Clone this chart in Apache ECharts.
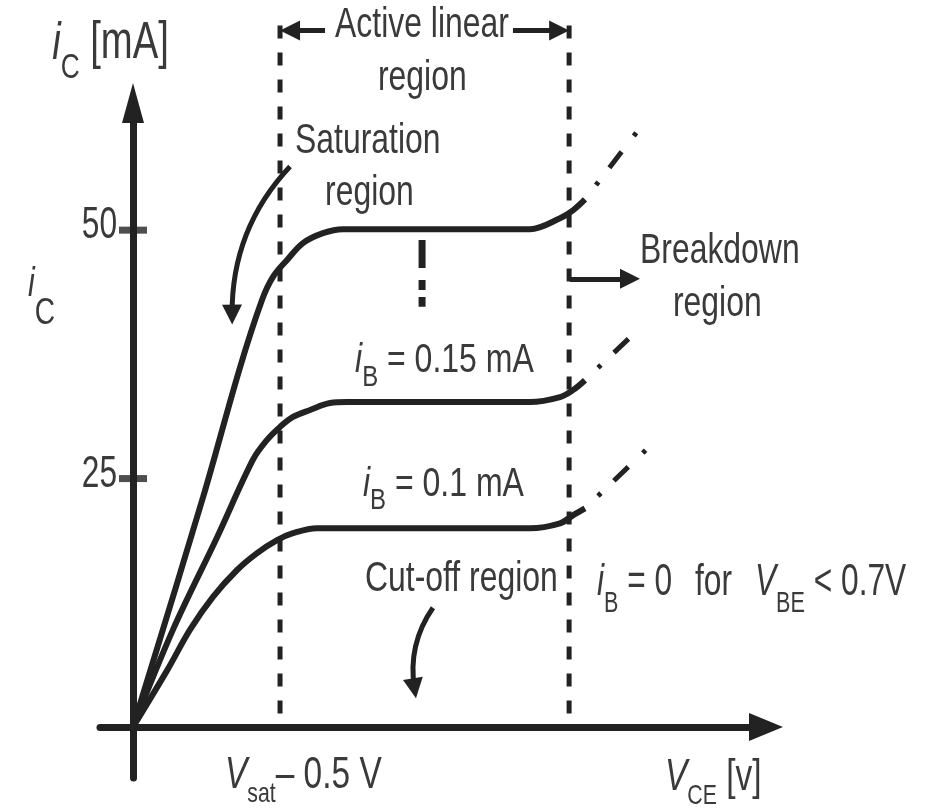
<!DOCTYPE html>
<html>
<head>
<meta charset="utf-8">
<script src="https://cdn.jsdelivr.net/npm/echarts@6/dist/echarts.min.js"></script>
<style>
  html, body { margin: 0; padding: 0; background: #fff; }
  #chart { width: 927px; height: 808px; }
</style>
</head>
<body>
<div id="chart"></div>
<script>
// output characteristics, V_CE [V] against i_C [mA]
const vceHigh = [0, 0.238, 0.364, 0.439, 0.476, 0.524, 0.578, 0.646, 0.714, 1.250, 1.350, 1.452, 1.496, 1.537];
const icHigh  = [0, 23.1, 36.2, 43.0, 45.3, 47.0, 48.7, 49.7, 50.1, 50.1, 50.1, 51.2, 52.0, 53.1];
const vceMid  = [0, 0.136, 0.286, 0.408, 0.456, 0.500, 0.544, 0.602, 0.670, 0.728, 1.250, 1.350, 1.452, 1.496, 1.537];
const icMid   = [0, 9.8, 19.1, 26.9, 28.9, 30.2, 31.2, 31.9, 32.6, 32.7, 32.7, 32.7, 33.2, 33.9, 34.9];
const vceLow  = [0, 0.116, 0.194, 0.272, 0.354, 0.422, 0.490, 0.544, 0.626, 0.704, 1.250, 1.350, 1.452, 1.496, 1.537];
const icLow   = [0, 5.7, 9.8, 13.1, 15.8, 17.5, 18.8, 19.5, 20.0, 20.0, 20.0, 20.0, 20.5, 21.3, 22.0];

// breakdown continuation of each curve (drawn dashed)
const vceBreak = [[1.537, 1.727], [1.537, 1.697], [1.537, 1.745]];
const icBreak  = [[53.1, 60.4], [34.9, 39.4], [22.0, 27.9]];

// V_sat and onset of breakdown (dashed region borders)
const regionEdges = [0.5, 1.483];
const yTicks = [25, 50];

// annotations: runs of [text, kind] at [V, mA]
const notes = [
  { runs: [['i', 'it'], ['C', 'sub'], [' [mA]', 'n']], at: [-0.275, 68.7], style: 'axisTop' },
  { runs: [['i', 'it'], ['C', 'sub']], at: [-0.357, 44.5], style: 'axisSide' },
  { runs: [['Active linear', 'n']], at: [0.687, 70.6], style: 'region' },
  { runs: [['region', 'n']], at: [0.833, 65.3], style: 'region' },
  { runs: [['Saturation', 'n']], at: [0.551, 58.9], style: 'region' },
  { runs: [['region', 'n']], at: [0.653, 53.7], style: 'region' },
  { runs: [['Breakdown', 'n']], at: [1.724, 47.9], style: 'region' },
  { runs: [['region', 'n']], at: [1.836, 42.5], style: 'region' },
  { runs: [['i', 'it'], ['B', 'sub'], [' = 0.15 mA', 'n']], at: [0.755, 36.8], style: 'ib' },
  { runs: [['i', 'it'], ['B', 'sub'], [' = 0.1 mA', 'n']], at: [0.782, 24.4], style: 'ib' },
  { runs: [['Cut-off region', 'n']], at: [0.789, 14.9], style: 'region' },
  { runs: [['i', 'it'], ['B', 'sub'], [' = 0', 'n']], at: [1.578, 14.5], style: 'cond' },
  { runs: [['for', 'n']], at: [1.911, 14.5], style: 'cond' },
  { runs: [['V', 'it'], ['BE', 'sub'], [' < 0.7V', 'n']], at: [2.115, 14.5], style: 'cond' },
  { runs: [['V', 'it'], ['sat', 'sub'], ['– 0.5 V', 'n']], at: [0.313, -4.9], style: 'volt' },
  { runs: [['V', 'it'], ['CE', 'sub'], [' [v]', 'n']], at: [1.809, -5.1], style: 'volt' }
];

// arrows: from -> tip, curveness for the bent ones
const arrows = [
  { from: [0.653, 70.1], tip: [regionEdges[0], 70.1], bend: 0 },
  { from: [1.292, 70.1], tip: [regionEdges[1], 70.1], bend: 0 },
  { from: [1.486, 45.1], tip: [1.724, 45.1], bend: 0 },
  { from: [0.534, 56.4], tip: [0.337, 41.5], bend: -0.2 },
  { from: [1.020, 12.0], tip: [0.957, 3.9], bend: -0.2 }
];

// layout (pixels)
const ORIGIN = [133, 727];
const PX_PER_V = 294.07, PX_PER_MA = 9.937;
const GRID = { left: 100, right: 161, top: 103, bottom: 30 };
const W = 927, H = 808;
const X_MIN = -(ORIGIN[0] - GRID.left) / PX_PER_V;
const X_MAX = (W - GRID.right - ORIGIN[0]) / PX_PER_V;
const Y_MIN = -(H - GRID.bottom - ORIGIN[1]) / PX_PER_MA;
const Y_MAX = (ORIGIN[1] - GRID.top) / PX_PER_MA;
const DASH_TOP = 70.6;
const HEAD = 20;

const INK = '#222';
const TEXT = '#3a3a3a';
const FONT = '"Liberation Sans", Arial, sans-serif';

const noteStyles = {
  axisTop:  { size: 51, sub: 35, drop: 24, sx: 0.75 },
  axisSide: { size: 40, sub: 37, drop: 29, sx: 0.76 },
  region:   { size: 42, sub: 30, drop: 16, sx: 0.76 },
  ib:       { size: 40, sub: 30, drop: 16, sx: 0.80 },
  cond:     { size: 44, sub: 30, drop: 21, sx: 0.72 },
  volt:     { size: 44, sub: 28, drop: 19, sx: 0.76 },
  tick:     { size: 44, sub: 30, drop: 0, sx: 0.72, dx: -16, dy: -4, align: 'right' }
};

const allNotes = notes.concat(yTicks.map(v => ({ runs: [[String(v), 'n']], at: [0, v], style: 'tick' })));

function pairs(xs, ys) {
  return xs.map((x, k) => [x, ys[k]]);
}

const measure = document.createElement('canvas').getContext('2d');

function renderNote(params, api) {
  const note = allNotes[params.dataIndex];
  const st = noteStyles[note.style];
  const p = api.coord([api.value(0), api.value(1)]);
  let cursor = 0;
  const kids = [];
  note.runs.forEach(([txt, kind]) => {
    const size = kind === 'sub' ? st.sub : st.size;
    const fontStyle = kind === 'it' ? 'italic' : 'normal';
    measure.font = fontStyle + ' ' + size + 'px ' + FONT;
    const w = measure.measureText(txt).width;
    kids.push({
      type: 'text',
      x: cursor,
      y: kind === 'sub' ? st.drop : 0,
      style: { text: txt, fontSize: size, fontStyle: fontStyle, fontFamily: FONT, fill: TEXT, align: 'left', verticalAlign: 'middle' }
    });
    cursor += w;
  });
  if (st.align === 'right') kids.forEach(k => { k.x -= cursor; });
  return { type: 'group', x: p[0] + (st.dx || 0), y: p[1] + (st.dy || 0), scaleX: st.sx, children: kids };
}

function arrowData() {
  return arrows.map(a => {
    let end = a.tip;
    if (!a.bend) {
      // pull the end back so the head's tip lands on the given point
      const dir = Math.sign(a.tip[0] - a.from[0]);
      end = [a.tip[0] - dir * (HEAD / 2) / PX_PER_V, a.tip[1]];
    }
    return { coords: [a.from, end], lineStyle: { curveness: a.bend } };
  });
}

const series = [];

regionEdges.forEach(v => {
  series.push({
    type: 'line', data: [[v, DASH_TOP], [v, 0]], symbol: 'none', clip: false, silent: true, z: 2,
    lineStyle: { color: INK, width: 5, type: [13, 14] }
  });
});

series.push({
  type: 'line', data: [[0.983, 49.0], [0.983, 42.3]], symbol: 'none', clip: false, silent: true, z: 2,
  lineStyle: { color: INK, width: 7, type: [28, 12, 10, 7, 10, 100] }
});

[pairs(vceHigh, icHigh), pairs(vceMid, icMid), pairs(vceLow, icLow)].forEach(c => {
  series.push({
    type: 'line', data: c, smooth: 0.35, symbol: 'none', clip: false, silent: true, z: 3,
    lineStyle: { color: INK, width: 6 }
  });
});

vceBreak.forEach((xs, k) => {
  series.push({
    type: 'line', data: pairs(xs, icBreak[k]), symbol: 'none', clip: false, silent: true, z: 3,
    lineStyle: { color: INK, width: 5, type: [0, 18, 4, 18, 20, 20, 4, 300], cap: 'butt' }
  });
});

series.push({
  type: 'scatter', data: yTicks.map(v => [0, v]), symbol: 'rect', symbolSize: [28, 7],
  itemStyle: { color: INK }, silent: true, z: 4
});

series.push({
  type: 'lines', coordinateSystem: 'cartesian2d', data: arrowData(), clip: false,
  symbol: ['none', 'triangle'], symbolSize: HEAD, silent: true, z: 4,
  lineStyle: { color: INK, width: 5, opacity: 1 }
});

series.push({
  type: 'custom', coordinateSystem: 'cartesian2d', renderItem: renderNote,
  data: allNotes.map(n => n.at), clip: false, silent: true, z: 10
});

const chart = echarts.init(document.getElementById('chart'));
chart.setOption({
  animation: false,
  backgroundColor: '#fff',
  grid: Object.assign({ outerBoundsMode: 'none', containLabel: false }, GRID),
  xAxis: {
    type: 'value', min: X_MIN, max: X_MAX,
    axisLine: { onZero: true, symbol: ['none', 'triangle'], symbolSize: [28, 34], lineStyle: { color: INK, width: 7 } },
    axisTick: { show: false }, axisLabel: { show: false }, splitLine: { show: false }
  },
  yAxis: {
    type: 'value', min: Y_MIN, max: Y_MAX,
    axisLine: { onZero: true, symbol: ['none', 'triangle'], symbolSize: [22, 40], lineStyle: { color: INK, width: 7 } },
    axisTick: { show: false }, axisLabel: { show: false }, splitLine: { show: false }
  },
  series: series
});
</script>
</body>
</html>
